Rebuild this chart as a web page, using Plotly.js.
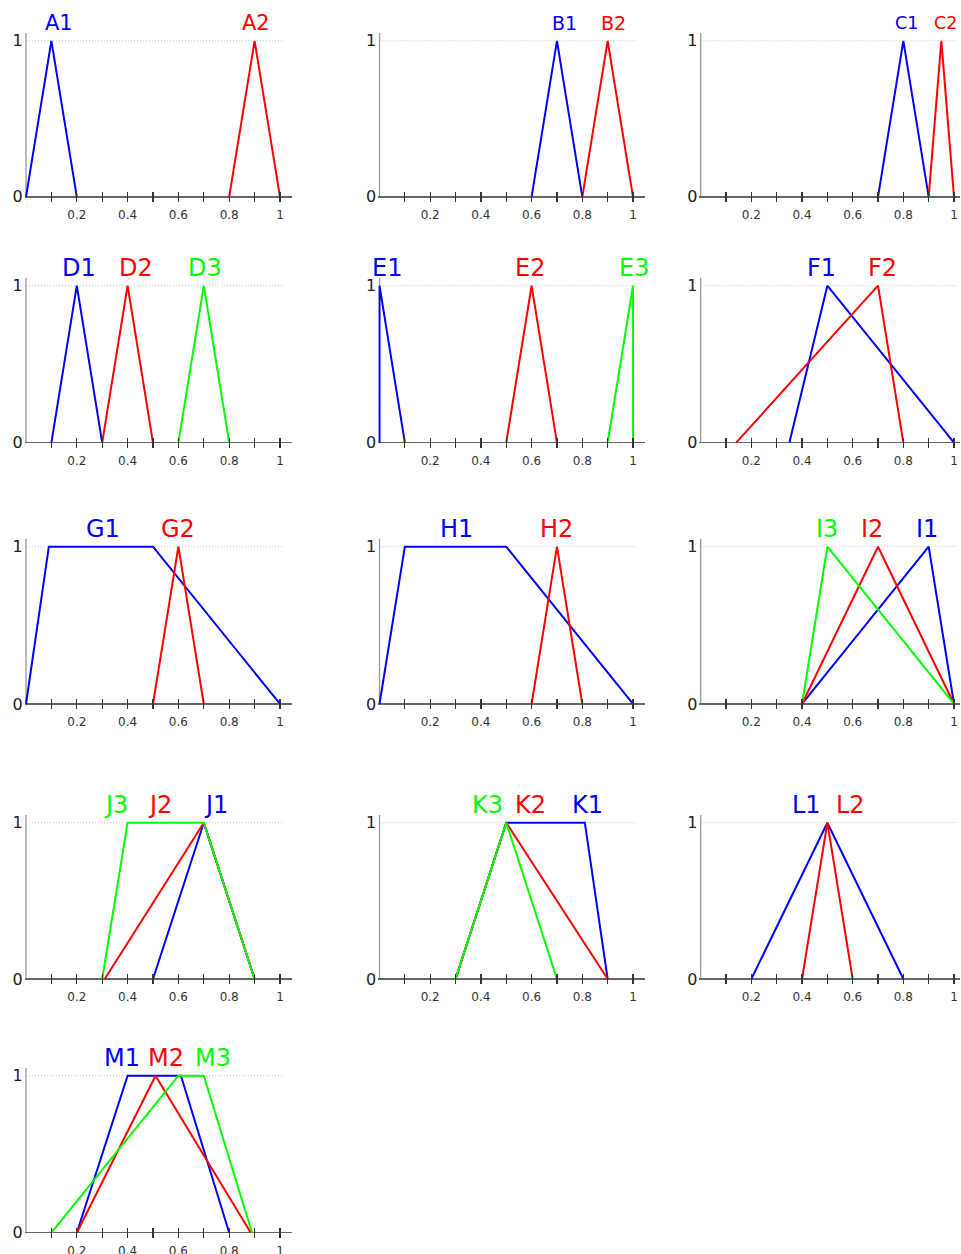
<!DOCTYPE html>
<html>
<head>
<meta charset="utf-8">
<script src="https://cdn.plot.ly/plotly-3.0.1.min.js"></script>
<style>html,body{margin:0;padding:0;background:#fff;}#chart{width:961px;height:1254px;}</style>
</head>
<body>
<div id="chart"></div>
<script>
// ---------- data ----------
const xTickVals = [0.1, 0.2, 0.3, 0.4, 0.5, 0.6, 0.7, 0.8, 0.9, 1.0];
const xTickText = ['', '0.2', '', '0.4', '', '0.6', '', '0.8', '', '1'];
const yTickVals = [0, 1];
const yTickText = ['0', '1'];

const A1_x = [0, 0.1, 0.2];            const A1_y = [0, 1, 0];
const A2_x = [0.8, 0.9, 1.0];          const A2_y = [0, 1, 0];
const B1_x = [0.6, 0.7, 0.8];          const B1_y = [0, 1, 0];
const B2_x = [0.8, 0.9, 1.0];          const B2_y = [0, 1, 0];
const C1_x = [0.7, 0.8, 0.9];          const C1_y = [0, 1, 0];
const C2_x = [0.9, 0.95, 1.0];         const C2_y = [0, 1, 0];
const D1_x = [0.1, 0.2, 0.3];          const D1_y = [0, 1, 0];
const D2_x = [0.3, 0.4, 0.5];          const D2_y = [0, 1, 0];
const D3_x = [0.6, 0.7, 0.8];          const D3_y = [0, 1, 0];
const E1_x = [0, 0, 0.1];              const E1_y = [0, 1, 0];
const E2_x = [0.5, 0.6, 0.7];          const E2_y = [0, 1, 0];
const E3_x = [0.9, 1.0, 1.0];          const E3_y = [0, 1, 0];
const F1_x = [0.35, 0.5, 1.0];         const F1_y = [0, 1, 0];
const F2_x = [0.14, 0.7, 0.8];         const F2_y = [0, 1, 0];
const G1_x = [0, 0.09, 0.5, 1.0];      const G1_y = [0, 1, 1, 0];
const G2_x = [0.5, 0.6, 0.7];          const G2_y = [0, 1, 0];
const H1_x = [0, 0.1, 0.5, 1.0];       const H1_y = [0, 1, 1, 0];
const H2_x = [0.6, 0.7, 0.8];          const H2_y = [0, 1, 0];
const I1_x = [0.4, 0.9, 1.0];          const I1_y = [0, 1, 0];
const I2_x = [0.4, 0.7, 1.0];          const I2_y = [0, 1, 0];
const I3_x = [0.4, 0.5, 1.0];          const I3_y = [0, 1, 0];
const J1_x = [0.5, 0.7, 0.9];          const J1_y = [0, 1, 0];
const J2_x = [0.31, 0.7, 0.9];         const J2_y = [0, 1, 0];
const J3_x = [0.3, 0.4, 0.7, 0.9];     const J3_y = [0, 1, 1, 0];
const K1_x = [0.3, 0.5, 0.81, 0.9];    const K1_y = [0, 1, 1, 0];
const K2_x = [0.3, 0.5, 0.9];          const K2_y = [0, 1, 0];
const K3_x = [0.3, 0.5, 0.7];          const K3_y = [0, 1, 0];
const L1_x = [0.2, 0.5, 0.8];          const L1_y = [0, 1, 0];
const L2_x = [0.4, 0.5, 0.6];          const L2_y = [0, 1, 0];
const M1_x = [0.2, 0.4, 0.61, 0.8];    const M1_y = [0, 1, 1, 0];
const M2_x = [0.2, 0.51, 0.885];       const M2_y = [0, 1, 0];
const M3_x = [0.1, 0.6, 0.7, 0.89];    const M3_y = [0, 1, 1, 0];

// ---------- styling / layout config ----------
const BLUE = '#0000ff', RED = '#ff0000', GREEN = '#00ff00';
const panels = [
  {fs: 21, series: [{t: 'A1', x: A1_x, y: A1_y, c: BLUE, lx: 0.13}, {t: 'A2', x: A2_x, y: A2_y, c: RED, lx: 0.905}]},
  {fs: 19, series: [{t: 'B1', x: B1_x, y: B1_y, c: BLUE, lx: 0.728}, {t: 'B2', x: B2_x, y: B2_y, c: RED, lx: 0.925}]},
  {fs: 17.5, series: [{t: 'C1', x: C1_x, y: C1_y, c: BLUE, lx: 0.813}, {t: 'C2', x: C2_x, y: C2_y, c: RED, lx: 0.967}]},
  {fs: 24, series: [{t: 'D1', x: D1_x, y: D1_y, c: BLUE, lx: 0.209}, {t: 'D2', x: D2_x, y: D2_y, c: RED, lx: 0.433}, {t: 'D3', x: D3_x, y: D3_y, c: GREEN, lx: 0.705}]},
  {fs: 24, series: [{t: 'E1', x: E1_x, y: E1_y, c: BLUE, lx: 0.031}, {t: 'E2', x: E2_x, y: E2_y, c: RED, lx: 0.594}, {t: 'E3', x: E3_x, y: E3_y, c: GREEN, lx: 1.004}]},
  {fs: 24, series: [{t: 'F1', x: F1_x, y: F1_y, c: BLUE, lx: 0.478}, {t: 'F2', x: F2_x, y: F2_y, c: RED, lx: 0.717}]},
  {fs: 24, series: [{t: 'G1', x: G1_x, y: G1_y, c: BLUE, lx: 0.304}, {t: 'G2', x: G2_x, y: G2_y, c: RED, lx: 0.6}]},
  {fs: 24, series: [{t: 'H1', x: H1_x, y: H1_y, c: BLUE, lx: 0.303}, {t: 'H2', x: H2_x, y: H2_y, c: RED, lx: 0.697}]},
  {fs: 24, series: [{t: 'I1', x: I1_x, y: I1_y, c: BLUE, lx: 0.895}, {t: 'I2', x: I2_x, y: I2_y, c: RED, lx: 0.675}, {t: 'I3', x: I3_x, y: I3_y, c: GREEN, lx: 0.497}]},
  {fs: 24, series: [{t: 'J1', x: J1_x, y: J1_y, c: BLUE, lx: 0.748}, {t: 'J2', x: J2_x, y: J2_y, c: RED, lx: 0.528}, {t: 'J3', x: J3_x, y: J3_y, c: GREEN, lx: 0.354}]},
  {fs: 24, series: [{t: 'K1', x: K1_x, y: K1_y, c: BLUE, lx: 0.82}, {t: 'K2', x: K2_x, y: K2_y, c: RED, lx: 0.596}, {t: 'K3', x: K3_x, y: K3_y, c: GREEN, lx: 0.427}]},
  {fs: 24, series: [{t: 'L1', x: L1_x, y: L1_y, c: BLUE, lx: 0.416}, {t: 'L2', x: L2_x, y: L2_y, c: RED, lx: 0.59}]},
  {fs: 24, series: [{t: 'M1', x: M1_x, y: M1_y, c: BLUE, lx: 0.377}, {t: 'M2', x: M2_x, y: M2_y, c: RED, lx: 0.55}, {t: 'M3', x: M3_x, y: M3_y, c: GREEN, lx: 0.735}]}
];

const W = 961, H = 1254;
const cols = [{x0: 26, s: 254, rmax: 1.047}, {x0: 379.5, s: 253.5, rmax: 1.047}, {x0: 700.7, s: 253.3, rmax: 1.024}];
const rows = [{y0: 196.8, s: 156}, {y0: 442.7, s: 157}, {y0: 704, s: 157.3}, {y0: 979, s: 156.3}, {y0: 1232.7, s: 157}];
const XMIN = -0.005, YMIN = -0.032, YMAX = 1.05, GRIDEND = 1.015;

const traces = [], annotations = [], shapes = [];
const layout = {
  width: W, height: H, margin: {l: 0, r: 0, t: 0, b: 0},
  paper_bgcolor: '#fff', plot_bgcolor: 'rgba(0,0,0,0)',
  font: {family: 'DejaVu Sans, sans-serif', color: '#222'},
  showlegend: false, hovermode: false
};

panels.forEach((p, i) => {
  const n = i + 1;
  const c = cols[i % 3], r = rows[Math.floor(i / 3)];
  const xa = 'x' + n, ya = 'y' + n;
  layout['xaxis' + n] = {
    domain: [(c.x0 + XMIN * c.s) / W, (c.x0 + c.rmax * c.s) / W],
    range: [XMIN, c.rmax], anchor: ya, fixedrange: true,
    tickmode: 'array', tickvals: xTickVals, ticktext: xTickText,
    ticks: 'inside', ticklen: 10, tickwidth: 1.2, tickcolor: '#333',
    tickfont: {size: 12, color: '#333'}, ticklabelstandoff: 4,
    showline: false, zeroline: false, showgrid: false
  };
  const bottom = r.y0 - YMIN * r.s, top = r.y0 - YMAX * r.s;
  layout['yaxis' + n] = {
    domain: [1 - bottom / H, 1 - top / H],
    range: [YMIN, YMAX], anchor: xa, fixedrange: true,
    tickmode: 'array', tickvals: yTickVals, ticktext: yTickText,
    ticks: '', tickfont: {size: 16, color: '#222'}, ticklabelstandoff: 1,
    showline: false, showgrid: false,
    zeroline: true, zerolinecolor: '#666', zerolinewidth: 1.4
  };
  // dotted reference line at y=1 and the vertical axis line
  shapes.push({type: 'line', layer: 'below', xref: xa, yref: ya, x0: 0, x1: GRIDEND, y0: 1, y1: 1,
               line: {color: '#c4c4c4', width: 1, dash: '1px,2px'}});
  shapes.push({type: 'line', layer: 'below', xref: xa, yref: ya, x0: 0, x1: 0, y0: 0, y1: YMAX,
               line: {color: '#999', width: 1.3}});
  const order = p.series.slice().sort((a, b) => a.t.localeCompare(b.t));
  order.forEach(s => {
    traces.push({type: 'scatter', mode: 'lines', x: s.x, y: s.y, xaxis: xa, yaxis: ya,
                 line: {color: s.c, width: 2}, hoverinfo: 'skip'});
  });
  p.series.forEach(s => {
    annotations.push({xref: xa, yref: ya, x: s.lx, y: 1, yshift: 18, text: s.t, showarrow: false,
                      xanchor: 'center', yanchor: 'middle', font: {size: p.fs, color: s.c}});
  });
});
layout.annotations = annotations;
layout.shapes = shapes;

Plotly.newPlot('chart', traces, layout, {staticPlot: true, displayModeBar: false});
</script>
</body>
</html>
